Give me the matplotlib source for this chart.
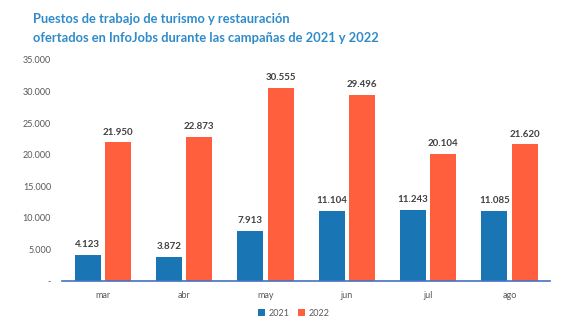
import matplotlib.pyplot as plt
import numpy as np

months = ['mar', 'abr', 'may', 'jun', 'jul', 'ago']
jobs_2021 = [4123, 3872, 7913, 11104, 11243, 11085]
jobs_2022 = [21950, 22873, 30555, 29496, 20104, 21620]
y_ticks = [0, 5000, 10000, 15000, 20000, 25000, 30000, 35000]

blue = '#1a75b5'
orange = '#ff5f3c'


def fmt(v):
    return f'{v:,}'.replace(',', '.')


plt.rcParams['font.family'] = ['Lato', 'DejaVu Sans']

fig = plt.figure(figsize=(5.76, 3.33), dpi=100)
ax = fig.add_axes([0.108, 0.156, 0.847, 0.664])

x = np.arange(len(months))
w = 0.32
off = 0.186
b1 = ax.bar(x - off, jobs_2021, w, color=blue, label='2021')
b2 = ax.bar(x + off, jobs_2022, w, color=orange, label='2022')

for bars, vals in ((b1, jobs_2021), (b2, jobs_2022)):
    for b, v in zip(bars, vals):
        ax.text(b.get_x() + b.get_width() / 2, v + 900, fmt(v),
                ha='center', va='bottom', fontsize=7, fontweight='bold',
                color='#404040')

ax.set_xlim(-0.5, len(months) - 0.5)
ax.set_ylim(0, 35000)
ax.set_xticks(x)
ax.set_xticklabels(months)
ax.set_yticks(y_ticks)
ax.set_yticklabels(['-' if t == 0 else fmt(t) for t in y_ticks])
ax.tick_params(length=0, labelsize=6.5, labelcolor='#595959')
ax.tick_params(axis='x', pad=7)
ax.tick_params(axis='y', pad=8)

for s in ('top', 'right', 'left'):
    ax.spines[s].set_visible(False)
ax.spines['bottom'].set_color('#4472c4')
ax.spines['bottom'].set_linewidth(1.2)

fig.text(0.057, 0.943, 'Puestos de trabajo de turismo y restauración',
         fontsize=9.3, fontweight='bold', color='#2e8bc9', va='center')
fig.text(0.057, 0.885, 'ofertados en InfoJobs durante las campañas de 2021 y 2022',
         fontsize=9.3, fontweight='bold', color='#2e8bc9', va='center')

fig.legend(loc='center', bbox_to_anchor=(0.51, 0.06), ncol=2, frameon=False,
           fontsize=6.5, handlelength=0.7, handleheight=0.7,
           handletextpad=0.4, columnspacing=1.0, labelcolor='#595959')

fig.savefig('out.png', dpi=100, facecolor='white')
